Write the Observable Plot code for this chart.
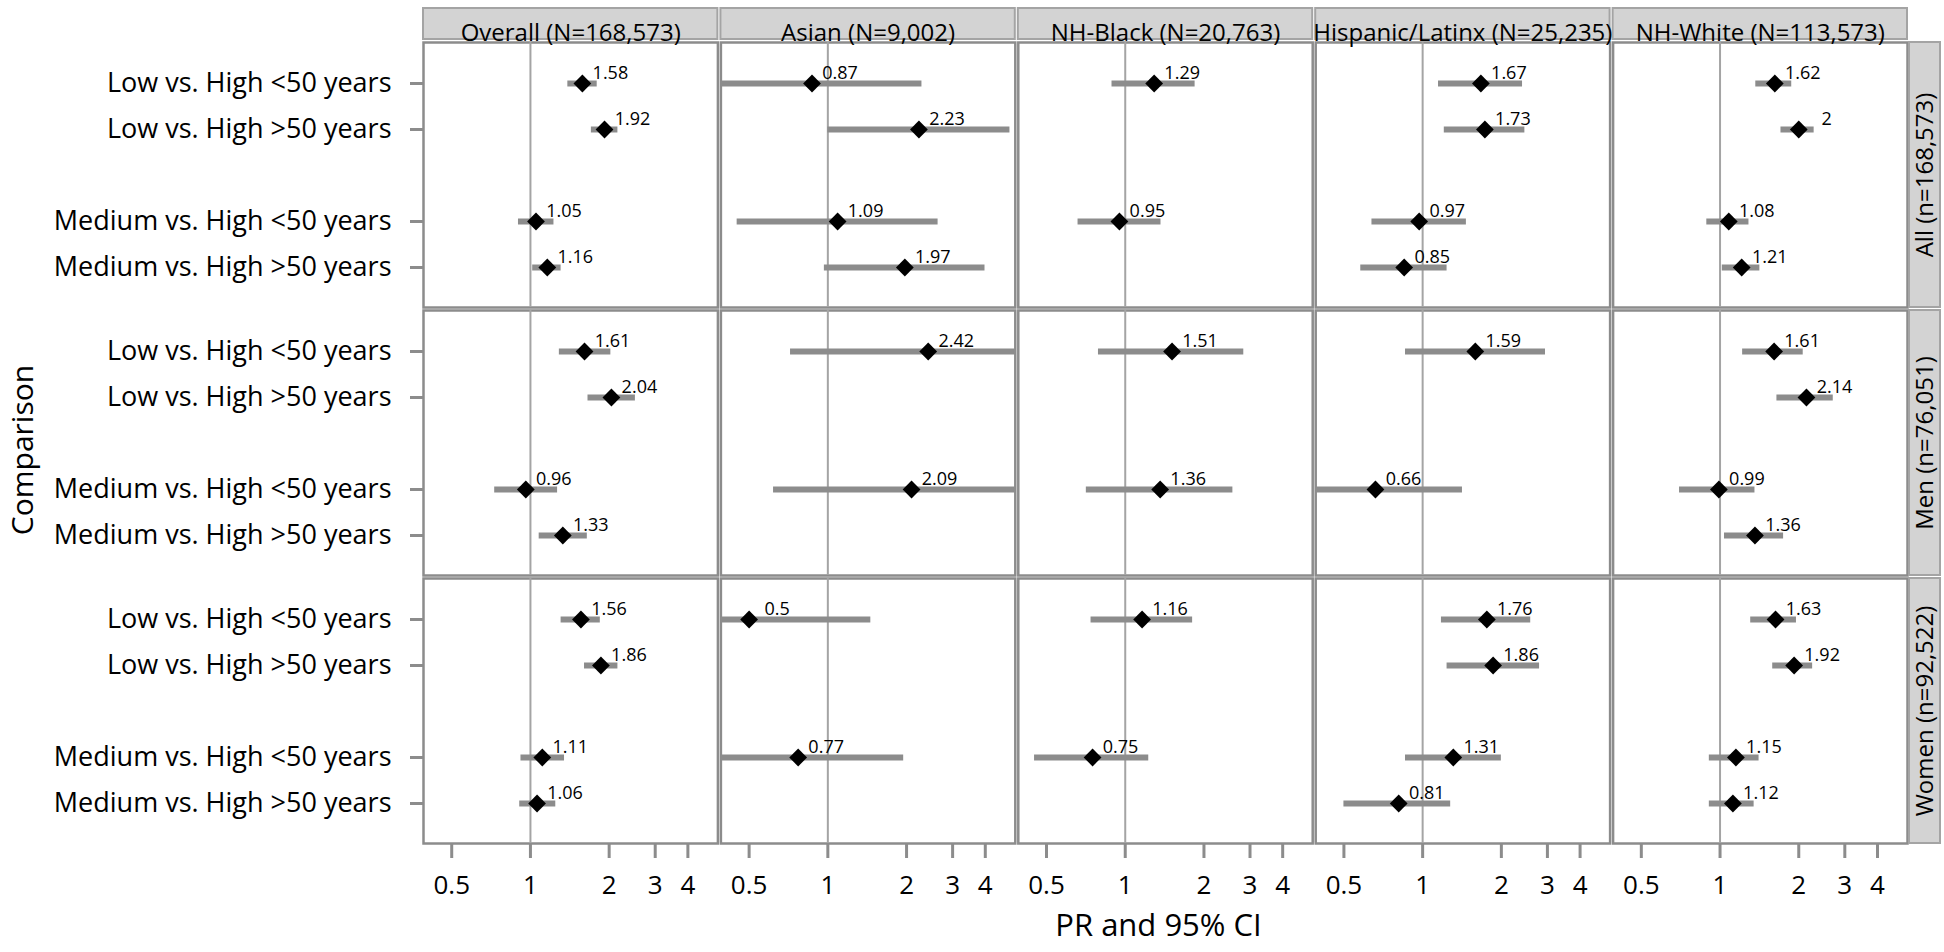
<!DOCTYPE html>
<html>
<head>
<meta charset="utf-8">
<script src="https://cdn.jsdelivr.net/npm/d3@7"></script>
<script src="https://cdn.jsdelivr.net/npm/@observablehq/plot@0.6"></script>
<style>
  html, body { margin: 0; padding: 0; background: #ffffff; }
  #chart svg { display: block; }
</style>
</head>
<body>
<div id="chart"></div>
<script>
// ---- Categories ----
const races = ["Overall (N=168,573)", "Asian (N=9,002)", "NH-Black (N=20,763)", "Hispanic/Latinx (N=25,235)", "NH-White (N=113,573)"];
const groups = ["All (n=168,573)", "Men (n=76,051)", "Women (n=92,522)"];
const comparisons = ["Low vs. High <50 years", "Low vs. High >50 years", "Medium vs. High <50 years", "Medium vs. High >50 years"];
const xTicks = [0.5, 1, 2, 3, 4];
const xDomain = [0.39, 5.21];

// ---- Values: one row per race (Overall, Asian, NH-Black, Hispanic/Latinx, NH-White), one column per comparison ----
const estAll  = [[1.58, 1.92, 1.05, 1.16], [0.87, 2.23, 1.09, 1.97], [1.29, null, 0.95, null], [1.67, 1.73, 0.97, 0.85], [1.62, 2, 1.08, 1.21]];
const lowAll  = [[1.39, 1.71, 0.90, 1.02], [0.33, 1.00, 0.45, 0.97], [0.89, null, 0.66, null], [1.15, 1.21, 0.64, 0.58], [1.37, 1.71, 0.89, 1.02]];
const highAll = [[1.80, 2.16, 1.23, 1.31], [2.29, 4.97, 2.64, 3.99], [1.85, null, 1.37, null], [2.41, 2.46, 1.47, 1.24], [1.88, 2.29, 1.29, 1.42]];

const estMen  = [[1.61, 2.04, 0.96, 1.33], [2.42, null, 2.09, null], [1.51, null, 1.36, null], [1.59, null, 0.66, null], [1.61, 2.14, 0.99, 1.36]];
const lowMen  = [[1.29, 1.66, 0.73, 1.08], [0.72, null, 0.62, null], [0.79, null, 0.71, null], [0.86, null, 0.31, null], [1.22, 1.65, 0.70, 1.04]];
const highMen = [[2.03, 2.52, 1.27, 1.65], [8.20, null, 7.10, null], [2.84, null, 2.58, null], [2.95, null, 1.42, null], [2.08, 2.71, 1.36, 1.75]];

const estWomen  = [[1.56, 1.86, 1.11, 1.06], [0.5, null, 0.77, null], [1.16, null, 0.75, null], [1.76, 1.86, 1.31, 0.81], [1.63, 1.92, 1.15, 1.12]];
const lowWomen  = [[1.31, 1.61, 0.92, 0.91], [0.17, null, 0.30, null], [0.74, null, 0.45, null], [1.18, 1.24, 0.86, 0.50], [1.31, 1.59, 0.91, 0.91]];
const highWomen = [[1.85, 2.16, 1.35, 1.25], [1.46, null, 1.95, null], [1.81, null, 1.23, null], [2.59, 2.80, 2.00, 1.28], [1.96, 2.26, 1.41, 1.35]];

// ---- Build table ----
const series = [[groups[0], estAll, lowAll, highAll], [groups[1], estMen, lowMen, highMen], [groups[2], estWomen, lowWomen, highWomen]];
const rows = [];
for (const [g, E, L, H] of series) {
  races.forEach((r, i) => comparisons.forEach((c, j) => {
    if (E[i][j] != null) rows.push({race: r, group: g, comparison: c, est: E[i][j], lo: L[i][j], hi: H[i][j]});
  }));
}
// y domain with an empty spacer slot between the Low and Medium groups
const yDomain = [comparisons[0], comparisons[1], " ", comparisons[2], comparisons[3]];

// ---- Layout ----
const figW = 1944, figH = 952;
const plotLeft = 423, plotRight = 1907, plotTop = 42, plotBottom = 843, gap = 3, stripH = 31, stripW = 31;
const panelW = (plotRight - plotLeft - 4 * gap) / 5;
const panelH = (plotBottom - plotTop - 2 * gap) / 3;
const grey = "#8c8c8c";

const chart = Plot.plot({
  width: figW, height: figH,
  marginLeft: plotLeft, marginRight: figW - plotRight, marginTop: plotTop, marginBottom: figH - plotBottom,
  style: {fontFamily: "'Open Sans', sans-serif", background: "white", color: "black"},
  fx: {domain: races, paddingInner: gap / (panelW + gap), paddingOuter: 0, axis: null, round: false, label: null},
  fy: {domain: groups, paddingInner: gap / (panelH + gap), paddingOuter: 0, axis: null, round: false, label: null},
  x: {type: "log", domain: xDomain, clamp: true, label: null},
  y: {type: "point", domain: yDomain, padding: 0.866, label: null},
  marks: [
    Plot.frame({stroke: grey, strokeWidth: 2.5}),
    Plot.ruleX([1], {stroke: "#a4a4a4", strokeWidth: 2}),
    Plot.ruleY(rows, {fx: "race", fy: "group", y: "comparison", x1: "lo", x2: "hi", stroke: grey, strokeWidth: 6}),
    Plot.dot(rows, {fx: "race", fy: "group", x: "est", y: "comparison", symbol: "diamond2", r: 8, fill: "black"}),
    Plot.text(rows, {fx: "race", fy: "group", x: "est", y: "comparison", text: d => String(d.est), dx: 28, dy: -10, fontSize: 18, fill: "black"}),
    Plot.axisY({ticks: comparisons, tickSize: 13, tickPadding: 19, fontSize: 27, stroke: grey, strokeWidth: 3, fill: "black", label: null}),
    Plot.axisX({ticks: xTicks, tickFormat: d => String(d), tickSize: 15, tickPadding: 17, fontSize: 26, stroke: grey, strokeWidth: 3, fill: "black", label: null}),
    // column strips (top)
    Plot.rect(races, {fx: d => d, fy: () => groups[0], insetBottom: panelH - stripH, dy: -(stripH + gap), fill: "#d3d3d3", stroke: "#a4a4a4", strokeWidth: 2}),
    Plot.text(races, {fx: d => d, fy: () => groups[0], text: d => d, frameAnchor: "top", textAnchor: "middle", dy: -(gap + stripH / 2), fontSize: 24, fill: "black"}),
    // row strips (right)
    Plot.rect(groups, {fx: () => races[4], fy: d => d, insetLeft: panelW - stripW, dx: stripW + 2, fill: "#d3d3d3", stroke: "#a4a4a4", strokeWidth: 2}),
    Plot.text(groups, {fx: () => races[4], fy: d => d, text: d => d, frameAnchor: "right", textAnchor: "middle", dx: 2 + stripW / 2, rotate: -90, fontSize: 24, fill: "black"}),
    // axis titles
    Plot.text(["Comparison"], {fx: () => races[0], fy: () => groups[1], text: d => d, frameAnchor: "left", textAnchor: "middle", dx: -(plotLeft - 23), dy: 7, rotate: -90, fontSize: 30, fill: "black"}),
    Plot.text(["PR and 95% CI"], {fx: () => races[2], fy: () => groups[2], text: d => d, frameAnchor: "bottom", textAnchor: "middle", dy: 92, dx: -7, fontSize: 31, fill: "black"})
  ]
});
document.getElementById("chart").appendChild(chart);
</script>
</body>
</html>
